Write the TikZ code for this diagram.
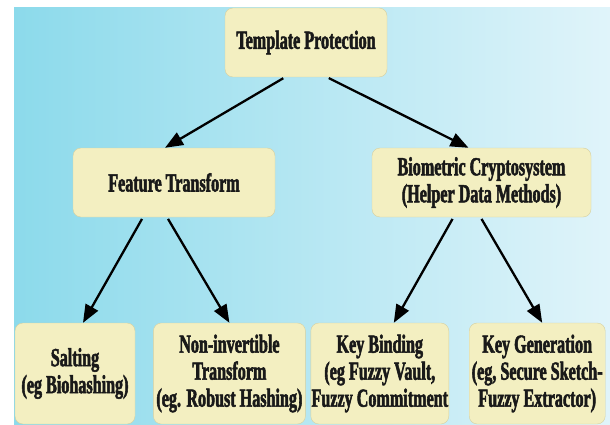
\documentclass[tikz,border=0pt]{standalone}
\usepackage{fontspec}
\newfontfamily\boxfont{Liberation Serif}[FakeStretch=0.62,FakeBold=2]
\usetikzlibrary{positioning}
\usetikzlibrary{arrows.meta}
\definecolor{bgleft}{RGB}{140,218,235}
\definecolor{bgright}{RGB}{224,244,250}
\definecolor{boxfill}{RGB}{243,239,193}
\definecolor{boxline}{RGB}{214,208,160}
\tikzset{box/.style={draw=boxline,fill=boxfill,rounded corners=8pt,align=center,
  font={\boxfont\bfseries\fontsize{26}{27}\selectfont},text=black!90,inner sep=0pt},
  link/.style={line width=2.3pt,shorten <=2pt,-{Triangle[length=18pt,width=14pt]}}}
\begin{document}
\begin{tikzpicture}[x=1pt,y=-1pt]
\useasboundingbox (0,0) rectangle (610,425);
\shade[left color=bgleft,right color=bgright] (14,8) rectangle (610,425);
\node[box,minimum width=162pt,minimum height=69pt] at(306,42.5)(1) {Template Protection};
\node[box,minimum width=202pt,minimum height=69pt] at(174,182.5)(2) {Feature Transform};
\node[box,minimum width=219pt,minimum height=69pt] at(481.5,182.5)(3) {Biometric Cryptosystem\\(Helper Data Methods)};
\node[box,minimum width=120pt,minimum height=101pt] at(75,373.5)(4) {Salting\\(eg Biohashing)};
\node[box,minimum width=152pt,minimum height=101pt,right=18pt of 4](5) {Non-invertible\\Transform\\(eg. Robust Hashing)};
\node[box,minimum width=138pt,minimum height=101pt,right=5pt of 5](6) {Key Binding\\(eg Fuzzy Vault,\\Fuzzy Commitment};
\node[box,minimum width=136pt,minimum height=101pt,right=20pt of 6](7) {Key Generation\\(eg, Secure Sketch-\\Fuzzy Extractor)};
\draw[link] ([xshift=-21pt]1.south)--([xshift=-9pt]2.north);
\draw[link] ([xshift=21pt]1.south)--([xshift=-13pt]3.north);
\draw[link] ([xshift=-31pt]2.south)--([xshift=8pt]4.north);
\draw[link] ([xshift=-7pt]2.south)--([xshift=0pt]5.north);
\draw[link] ([xshift=-28pt]3.south)--([xshift=14pt]6.north);
\draw[link] ([xshift=-1pt]3.south)--([xshift=5pt]7.north);
\end{tikzpicture}
\end{document}
